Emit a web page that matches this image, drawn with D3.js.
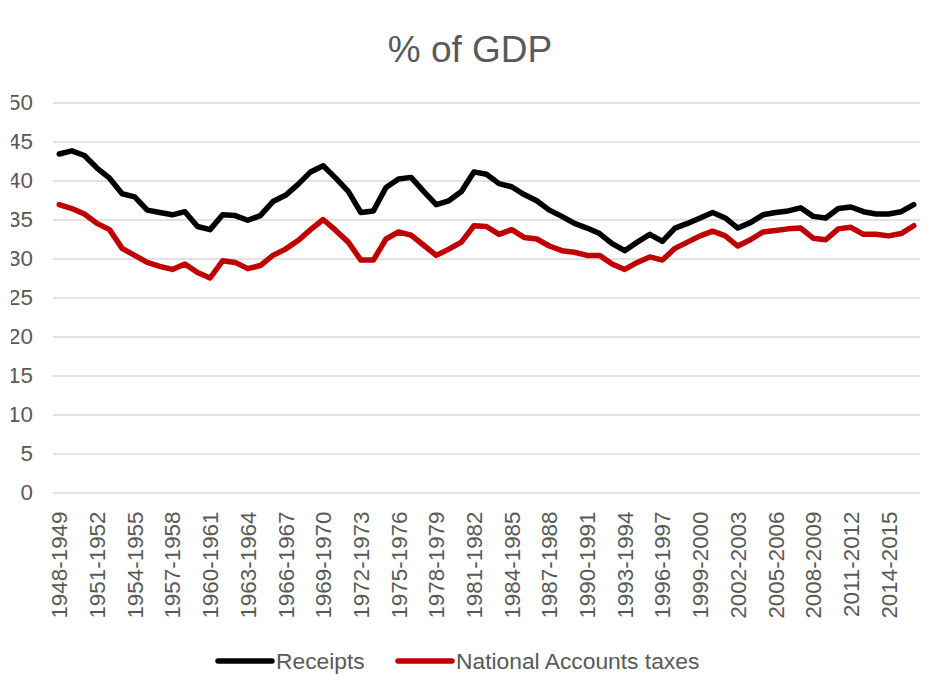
<!DOCTYPE html>
<html>
<head>
<meta charset="utf-8">
<script src="https://cdn.jsdelivr.net/npm/d3@7/dist/d3.min.js"></script>
<style>
  html, body { margin: 0; padding: 0; background: #ffffff; }
  svg { display: block; font-family: "Liberation Sans", Arial, sans-serif; }
</style>
</head>
<body>
<svg id="chart" width="938" height="693"></svg>
<script>
// Fiscal years, 1948-1949 through 2016-2017
const startYears = d3.range(1948, 2017);
const categories = startYears.map(y => `${y}-${y + 1}`);

// Receipts, % of GDP
const receipts = [
  43.4, 43.8, 43.2, 41.6, 40.3, 38.3, 37.9, 36.2, 35.9, 35.6,
  36.0, 34.1, 33.7, 35.6, 35.5, 34.9, 35.5, 37.3, 38.1, 39.5,
  41.1, 41.9, 40.3, 38.6, 35.9, 36.1, 39.1, 40.2, 40.4, 38.6,
  36.9, 37.4, 38.6, 41.1, 40.8, 39.6, 39.2, 38.2, 37.4, 36.2,
  35.4, 34.5, 33.9, 33.2, 31.9, 31.0, 32.1, 33.1, 32.2, 33.9,
  34.5, 35.2, 35.9, 35.2, 33.9, 34.6, 35.6, 35.9, 36.1, 36.5,
  35.4, 35.2, 36.4, 36.6, 36.0, 35.7, 35.7, 36.0, 36.9
];

// National Accounts taxes, % of GDP
const nationalAccountsTaxes = [
  36.9, 36.4, 35.7, 34.5, 33.7, 31.3, 30.4, 29.5, 29.0, 28.6,
  29.3, 28.2, 27.5, 29.7, 29.5, 28.7, 29.1, 30.4, 31.2, 32.3,
  33.7, 35.0, 33.6, 32.1, 29.8, 29.8, 32.5, 33.4, 33.0, 31.7,
  30.4, 31.2, 32.1, 34.2, 34.1, 33.1, 33.7, 32.7, 32.5, 31.6,
  31.0, 30.8, 30.4, 30.4, 29.3, 28.6, 29.5, 30.2, 29.8, 31.3,
  32.1, 32.9, 33.5, 32.9, 31.6, 32.4, 33.4, 33.6, 33.8, 33.9,
  32.6, 32.4, 33.8, 34.0, 33.1, 33.1, 32.9, 33.2, 34.2
];

const yTicks = d3.range(0, 51, 5);
const xTickLabels = categories.filter((c, i) => i % 3 === 0);

const seriesList = [
  { name: "Receipts", values: receipts, color: "#000000" },
  { name: "National Accounts taxes", values: nationalAccountsTaxes, color: "#c00000" }
];

const textColor = "#595959";
const gridColor = "#d9d9d9";

const svg = d3.select("#chart");
const plot = { left: 53, right: 920, top: 102.5, bottom: 492.5 };

const x = d3.scaleBand().domain(categories).range([plot.left, plot.right]).padding(0);
const y = d3.scaleLinear().domain([0, 50]).range([plot.bottom, plot.top]);

// Clip the left margin of the value labels
svg.append("defs").append("clipPath").attr("id", "leftClip")
  .append("rect").attr("x", 11).attr("y", 0).attr("width", 927).attr("height", 693);

// Title
svg.append("text")
  .attr("x", 470).attr("y", 62)
  .attr("text-anchor", "middle")
  .attr("fill", textColor)
  .attr("font-size", 37)
  .text("% of GDP");

// Horizontal gridlines
svg.append("g")
  .attr("transform", `translate(${plot.left},0)`)
  .call(d3.axisLeft(y).tickValues(yTicks).tickSize(-(plot.right - plot.left)).tickFormat(""))
  .call(g => g.select(".domain").remove())
  .call(g => g.selectAll("line").attr("stroke", gridColor).attr("stroke-width", 1.5));

// Value axis labels
svg.append("g")
  .attr("clip-path", "url(#leftClip)")
  .append("g")
  .attr("transform", `translate(${plot.left},0)`)
  .call(d3.axisLeft(y).tickValues(yTicks).tickSize(0).tickPadding(20))
  .call(g => g.select(".domain").remove())
  .call(g => g.selectAll("text")
    .attr("fill", textColor)
    .attr("font-size", 22.4)
    .attr("font-family", "\"Liberation Sans\", Arial, sans-serif"));

// Category axis labels, rotated
svg.append("g")
  .attr("transform", `translate(0,${plot.bottom})`)
  .call(d3.axisBottom(x).tickValues(xTickLabels).tickSize(0))
  .call(g => g.select(".domain").remove())
  .call(g => g.selectAll("text")
    .attr("transform", "rotate(-90)")
    .attr("text-anchor", "end")
    .attr("x", -19)
    .attr("y", 0)
    .attr("dy", "0.36em")
    .attr("fill", textColor)
    .attr("font-size", 22.4)
    .attr("font-family", "\"Liberation Sans\", Arial, sans-serif"));

// Series lines
const line = d3.line()
  .x((d, i) => x(categories[i]) + x.bandwidth() / 2)
  .y(d => y(d));

svg.append("g").selectAll("path")
  .data(seriesList)
  .join("path")
  .attr("d", s => line(s.values))
  .attr("fill", "none")
  .attr("stroke", s => s.color)
  .attr("stroke-width", 5.5)
  .attr("stroke-linejoin", "round")
  .attr("stroke-linecap", "round");

// Legend
const legendItems = [
  { x: 218, textX: 276 },
  { x: 398, textX: 456 }
];
const legend = svg.append("g");
seriesList.forEach((s, i) => {
  const item = legendItems[i];
  legend.append("line")
    .attr("x1", item.x).attr("x2", item.x + 54)
    .attr("y1", 661).attr("y2", 661)
    .attr("stroke", s.color)
    .attr("stroke-width", 5.5)
    .attr("stroke-linecap", "round");
  legend.append("text")
    .attr("x", item.textX).attr("y", 661)
    .attr("dy", "0.35em")
    .attr("fill", textColor)
    .attr("font-size", 22.8)
    .text(s.name);
});
</script>
</body>
</html>
